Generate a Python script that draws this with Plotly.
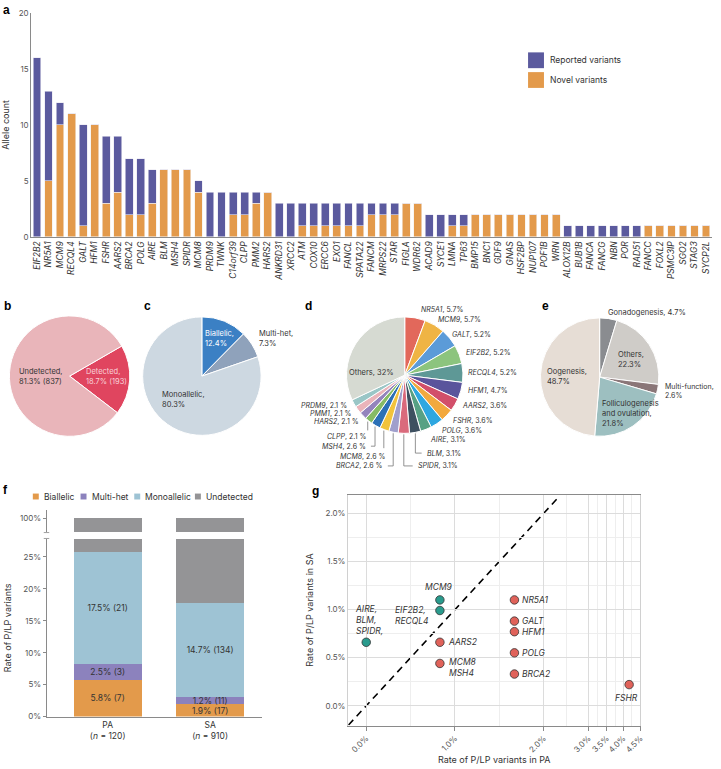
import numpy as np
import plotly.graph_objects as go

W, H = 721, 769

# ---------------- DATA ----------------
# panel a
genes = ["EIF2B2", "NR5A1", "MCM9", "RECQL4", "GALT", "HFM1", "FSHR", "AARS2", "BRCA2", "POLG",
         "AIRE", "BLM", "MSH4", "SPIDR", "MCM8", "PRDM9", "TWNK", "C14orf39", "CLPP", "PMM2",
         "HARS2", "ANKRD31", "XRCC2", "ATM", "COX10", "ERCC6", "EXO1", "FANCL", "SPATA22", "FANCM",
         "MRPS22", "STAR", "FIGLA", "WDR62", "ACAD9", "SYCE1", "LMNA", "TP63", "BMP15", "BNC1",
         "GDF9", "GNAS", "HSF2BP", "NUP107", "POF1B", "WRN", "ALOX12B", "BUB1B", "FANCA", "FANCG",
         "NBN", "POR", "RAD51", "FANCC", "FOXL2", "PSMC3IP", "SGO2", "STAG3", "SYCP2L"]
novel = [0, 5, 10, 11, 1, 10, 3, 4, 2, 2, 3, 6, 6, 6, 4, 0, 0, 2, 2, 3, 4,
         0, 0, 1, 1, 1, 1, 1, 1, 2, 2, 2, 3, 3,
         0, 0, 1, 1, 2, 2, 2, 2, 2, 2, 2, 2,
         0, 0, 0, 0, 0, 0, 0, 1, 1, 1, 1, 1, 1]
reported = [16, 8, 2, 0, 9, 0, 6, 5, 5, 5, 3, 0, 0, 0, 1, 4, 4, 2, 2, 1, 0,
            3, 3, 2, 2, 2, 2, 2, 2, 1, 1, 1, 0, 0,
            2, 2, 1, 1, 0, 0, 0, 0, 0, 0, 0, 0,
            1, 1, 1, 1, 1, 1, 1, 0, 0, 0, 0, 0, 0]

# panel b
b_labels = ["Detected", "Undetected"]
b_counts = [193, 837]
b_pct = [18.7, 81.3]

# panel c
c_labels = ["Biallelic", "Multi-het", "Monoallelic"]
c_pct = [12.4, 7.3, 80.3]

# panel d
d_labels = ["NR5A1", "MCM9", "GALT", "EIF2B2", "RECQL4", "HFM1", "AARS2", "FSHR", "POLG", "AIRE",
            "BLM", "SPIDR", "BRCA2", "MCM8", "MSH4", "CLPP", "HARS2", "PMM1", "PRDM9", "Others"]
d_pct = [5.7, 5.7, 5.2, 5.2, 5.2, 4.7, 3.6, 3.6, 3.6, 3.1,
         3.1, 3.1, 2.6, 2.6, 2.6, 2.1, 2.1, 2.1, 2.1, 32]

# panel e
e_labels = ["Gonadogenesis", "Others", "Multi-function", "Folliculogenesis and ovulation", "Oogenesis"]
e_pct = [4.7, 22.3, 2.6, 21.8, 48.7]

# panel f
f_groups = ["PA", "SA"]
f_n = [120, 910]
f_biallelic = [5.8, 1.9]
f_biallelic_n = [7, 17]
f_multihet = [2.5, 1.2]
f_multihet_n = [3, 11]
f_mono = [17.5, 14.7]
f_mono_n = [21, 134]
f_undetected = [74.2, 82.2]

# panel g
g_genes = ["AIRE,<br>BLM,<br>SPIDR,", "MCM9", "EIF2B2,<br>RECQL4", "AARS2", "MCM8<br>MSH4",
           "NR5A1", "GALT", "HFM1", "POLG", "BRCA2", "FSHR"]
g_pa = [0.0, 0.83, 0.83, 0.83, 0.83, 1.67, 1.67, 1.67, 1.67, 1.67, 4.17]
g_sa = [0.66, 1.10, 0.99, 0.66, 0.44, 1.10, 0.88, 0.77, 0.55, 0.33, 0.22]
g_group = ["SA", "SA", "SA", "PA", "PA", "PA", "PA", "PA", "PA", "PA", "PA"]

# ---------------- STYLE ----------------
FONT = "Inter"
TXT = "#333333"
TICK = "#555555"
PURPLE = "#5b5a9e"
ORANGE = "#e39a4b"


def px(x):
    return x / W


def py(y):
    return 1 - y / H


fig = go.Figure()
annotations = []
shapes = []


def ann(text, x, y, xanchor="left", yanchor="middle", size=7.5, color=TXT, align="left", **kw):
    annotations.append(dict(text=text, x=px(x), y=py(y), xref="paper", yref="paper",
                            xanchor=xanchor, yanchor=yanchor, showarrow=False, align=align,
                            font=dict(family=FONT, size=size, color=color), **kw))


def square(x0, y0, size, color):
    shapes.append(dict(type="rect", xref="paper", yref="paper", x0=px(x0), x1=px(x0 + size),
                       y0=py(y0 + size), y1=py(y0), fillcolor=color, line=dict(width=0)))


# ---------------- PANEL a ----------------
fig.add_trace(go.Bar(x=genes, y=novel, name="Novel variants", xaxis="x", yaxis="y",
                     marker=dict(color=ORANGE, line=dict(color="#f4efe8", width=0.6)),
                     showlegend=False, width=0.68))
fig.add_trace(go.Bar(x=genes, y=reported, name="Reported variants", xaxis="x", yaxis="y",
                     marker=dict(color=PURPLE, line=dict(color="#e8e6f0", width=0.6)),
                     showlegend=False, width=0.68))
# legend of panel a
square(531, 48, 16, PURPLE)
ann("Reported variants", 551, 56, size=8.5)
square(531, 68, 16, ORANGE)
ann("Novel variants", 551, 76, size=8.5)

# ---------------- PIES ----------------
def pie_domain(cx, cy, r):
    return dict(x=[px(cx - r), px(cx + r)], y=[py(cy + r), py(cy - r)])


fig.add_trace(go.Pie(labels=b_labels, values=b_counts, sort=False, direction="clockwise", rotation=60,
                     marker=dict(colors=["#e0455f", "#e9b5ba"], line=dict(color="white", width=1)),
                     textinfo="none", showlegend=False, domain=pie_domain(70, 376, 61)))
fig.add_trace(go.Pie(labels=c_labels, values=c_pct, sort=False, direction="clockwise", rotation=0,
                     marker=dict(colors=["#3b80c4", "#8fa2bb", "#cdd8e1"], line=dict(color="white", width=1)),
                     textinfo="none", showlegend=False, domain=pie_domain(203, 376, 60)))
d_colors = ["#e2685b", "#efb444", "#5b9bd8", "#8cc47e", "#5e9896", "#5a549c", "#d24f6a", "#f2a93e",
            "#2ea7e0", "#57a184", "#3e5060", "#da6a7c", "#a09fcc", "#f2c33c", "#2b70b6", "#86bb66",
            "#9484bc", "#eab4ba", "#9ac6c6", "#d6dad2"]
D_CX, D_CY, D_R = 407, 375, 59
fig.add_trace(go.Pie(labels=d_labels, values=d_pct, sort=False, direction="clockwise", rotation=0,
                     marker=dict(colors=d_colors, line=dict(color="white", width=1)),
                     textinfo="none", showlegend=False, domain=pie_domain(D_CX, D_CY, D_R)))
fig.add_trace(go.Pie(labels=e_labels, values=e_pct, sort=False, direction="clockwise", rotation=0,
                     marker=dict(colors=["#8a8c90", "#cfccc8", "#8a7678", "#9dbfc0", "#e6ddd5"],
                                 line=dict(color="white", width=1)),
                     textinfo="none", showlegend=False, domain=pie_domain(603, 377, 60)))

# pie labels b
ann("Undetected,<br>81.3% (837)", 17, 376.5)
ann("Detected,<br>18.7% (193)", 84, 376.5, color="#f8d3d9")
# c
ann("Biallelic,<br>12.4%", 204, 337.5, color="white")
ann("Multi-het,<br>7.3%", 258, 337.5)
ann("Monoallelic,<br>80.3%", 161, 399.5)
# e
ann("Gonadogenesis, 4.7%", 609, 312)
ann("Others,<br>22.3%", 619, 359.5)
ann("Multi-function,<br>2.6%", 667, 391.5, size=7)
ann("Folliculogenesis<br>and ovulation,<br>21.8%", 603, 414)
ann("Oogenesis,<br>48.7%", 548, 376.5)

# d labels: (x, y, anchor, leader)
d_pos = [(421, 309, "left", None), (438, 319, "left", None), (453, 334, "left", None),
         (467, 352, "left", None), (469, 372, "left", None), (469, 391, "left", None),
         (463, 406, "left", None), (454, 421, "left", None), (442, 431, "left", None),
         (430, 440, "left", None), (427, 454, "left", "hook"), (418, 467, "left", "hook"),
         (387, 467, "right", "hook"), (389, 457, "right", 449), (370, 447, "right", "hook"),
         (370, 437, "right", 431), (363, 422, "right", None), (355, 414, "right", None),
         (351, 406, "right", None), (374, 372, "center", None)]
cum = 0.0
for lab, val, (x, y, anc, lead) in zip(d_labels, d_pct, d_pos):
    mid = (cum + val / 2) / 100 * 2 * np.pi
    cum += val
    if lab == "Others":
        ann(f"{lab}, {val:g}%", x, y, xanchor="center", size=7.5)
        continue
    txt = f"<i>{lab}</i>, {val:g} %" if anc == "right" else f"<i>{lab}</i>, {val:g}%"
    ann(txt, x, y, xanchor=anc, size=7)
    if lead is not None:
        ex = D_CX + (D_R + 1) * np.sin(mid)
        ey = D_CY - (D_R + 1) * np.cos(mid)
        if lead == "hook":
            end_x = x - 3 if anc == "left" else x + 3
            path = f"M{px(ex)},{py(ey)} L{px(ex)},{py(y)} L{px(end_x)},{py(y)}"
        else:
            path = f"M{px(ex)},{py(ey)} L{px(ex)},{py(lead)}"
        shapes.append(dict(type="path", xref="paper", yref="paper", path=path,
                           line=dict(color="#777777", width=0.8)))

# ---------------- PANEL f ----------------
f_x = [0, 1]
f_series = [("Biallelic", f_biallelic, f_biallelic_n, ORANGE),
            ("Multi-het", f_multihet, f_multihet_n, "#8c82bd"),
            ("Monoallelic", f_mono, f_mono_n, "#9ec3d4"),
            ("Undetected", f_undetected, None, "#949496")]
for name, vals, ns, col in f_series:
    text = [f"{v}% ({n})" for v, n in zip(vals, ns)] if ns else None
    fig.add_trace(go.Bar(x=f_x, y=vals, name=name, xaxis="x2", yaxis="y2", width=0.667,
                         marker=dict(color=col, line=dict(width=0)), text=text,
                         textposition="inside" if ns else "none", insidetextanchor="middle",
                         constraintext="none", textangle=0,
                         textfont=dict(family=FONT, size=8.5, color=TXT), showlegend=False))
    fig.add_trace(go.Bar(x=f_x, y=vals, name=name, xaxis="x2", yaxis="y3", width=0.667,
                         marker=dict(color=col, line=dict(width=0)), showlegend=False,
                         hoverinfo="skip"))

# panel f legend
for (name, _, _, col), sx in zip(f_series, [33, 81, 135, 196]):
    square(sx, 495, 6, col)
    ann(name, sx + 9, 498, size=8.5)

# axis break marks
for yy in (534.5, 540.5):
    shapes.append(dict(type="line", xref="paper", yref="paper", x0=px(44), x1=px(49.5),
                       y0=py(yy), y1=py(yy), line=dict(color="#888", width=0.8)))

# ---------------- PANEL g ----------------
pa_knots = [0, 1, 2, 3, 3.5, 4, 4.5]
pa_pos = [0, 1, 2, 2.504, 2.71, 2.897, 3.09]


def xscale(v):
    return np.interp(v, pa_knots, pa_pos)


g_colors = {"SA": "#2a9b8d", "PA": "#e0625a"}
for grp in ["SA", "PA"]:
    idx = [i for i, g in enumerate(g_group) if g == grp]
    fig.add_trace(go.Scatter(x=[float(xscale(g_pa[i])) for i in idx], y=[g_sa[i] for i in idx],
                             mode="markers", xaxis="x4", yaxis="y4", showlegend=False,
                             text=[g_genes[i].replace("<br>", " ") for i in idx],
                             marker=dict(size=8.5, color=g_colors[grp], line=dict(color="#333", width=0.8))))

g_off = [(-13, 22.5, "left", "middle"), (-1, 6, "center", "bottom"), (-9, -5, "right", "middle"),
         (6, 0, "left", "middle"), (7, -4, "left", "middle"), (6, 0, "left", "middle"),
         (6, 0, "left", "middle"), (6, 0, "left", "middle"), (6, 0, "left", "middle"),
         (6, 0, "left", "middle"), (-3, -6, "center", "top")]
for lab, xv, yv, (dx, dy, xa, ya) in zip(g_genes, g_pa, g_sa, g_off):
    annotations.append(dict(text=f"<i>{lab}</i>", x=float(xscale(xv)), y=yv, xref="x4", yref="y4",
                            xshift=dx, yshift=dy, xanchor=xa, yanchor=ya, showarrow=False,
                            align="left", font=dict(family=FONT, size=8.5, color=TXT)))

shapes.append(dict(type="line", xref="x4", yref="y4", x0=-0.2, y0=-0.2, x1=2.16, y1=2.16,
                   line=dict(color="black", width=1.6, dash="7px,5px"), layer="below"))

# ---------------- panel letters ----------------
for letter, x, y in [("a", 1, 5), ("b", 2, 305), ("c", 143, 305), ("d", 305, 305),
                     ("e", 543, 305), ("f", 1, 491), ("g", 312, 492)]:
    annotations.append(dict(text=f"<b>{letter}</b>", x=px(x), y=py(y), xref="paper", yref="paper",
                            xanchor="left", yanchor="middle", showarrow=False,
                            font=dict(family="Liberation Sans", size=12, color="black")))

# ---------------- LAYOUT ----------------
axis_common = dict(showgrid=False, zeroline=False, showline=True, linecolor="#8a8a8a", linewidth=1,
                   tickfont=dict(family=FONT, size=8, color=TICK))

fig.update_layout(
    width=W, height=H, margin=dict(l=0, r=0, t=0, b=0),
    paper_bgcolor="white", plot_bgcolor="white",
    font=dict(family=FONT, size=8, color=TXT),
    barmode="stack", bargap=0.3, showlegend=False,
    annotations=annotations, shapes=shapes,
    xaxis=dict(axis_common, domain=[px(31.4), px(715.8)], anchor="y", tickangle=-90,
               tickvals=genes, ticktext=[f"<i>{g}</i>" for g in genes], ticks="",
               tickfont=dict(family=FONT, size=8.5, color=TXT), range=[-0.5, len(genes) - 0.5]),
    yaxis=dict(axis_common, domain=[py(235), py(8)], anchor="x", range=[0, 20],
               tickvals=[0, 5, 10, 15, 20], ticks="",
               title=dict(text="Allele count", standoff=10, font=dict(family=FONT, size=9, color=TXT))),
    xaxis2=dict(axis_common, domain=[px(47), px(263)], anchor="y2", range=[-0.595, 1.502],
                tickvals=f_x, ticktext=[f"{g}<br>(<i>n</i> = {n})" for g, n in zip(f_groups, f_n)],
                ticks="", tickfont=dict(family=FONT, size=8.5, color=TXT)),
    yaxis2=dict(axis_common, domain=[py(721), py(541)], anchor="x2", range=[0, 27.8],
                tickvals=[0, 5, 10, 15, 20, 25], ticktext=["0%", "5%", "10%", "15%", "20%", "25%"],
                ticks="outside", ticklen=3, tickcolor="#8a8a8a",
                title=dict(text="Rate of P/LP variants", standoff=10,
                           font=dict(family=FONT, size=9, color=TXT))),
    yaxis3=dict(axis_common, domain=[py(534), py(512)], anchor="x2", range=[97.9, 101.2],
                tickvals=[100], ticktext=["100%"], ticks="outside", ticklen=3, tickcolor="#8a8a8a"),
    xaxis4=dict(axis_common, domain=[px(350), px(644)], anchor="y4", range=[-0.205, 3.09],
                tickvals=[float(xscale(v)) for v in pa_knots],
                ticktext=[f"{v:.1f}%" for v in pa_knots], tickangle=-45,
                ticks="outside", ticklen=4, tickcolor="#8a8a8a",
                showgrid=True, gridcolor="#dcdcdc", gridwidth=1, mirror=True,
                minor=dict(tickvals=[float(xscale(v)) for v in [0.5, 1.5, 2.5, 3.25, 3.75, 4.25]],
                           showgrid=True, gridcolor="#eeeeee", ticks=""),
                title=dict(text="Rate of P/LP variants in PA", standoff=2,
                           font=dict(family=FONT, size=9, color=TXT))),
    yaxis4=dict(axis_common, domain=[py(730), py(496)], anchor="x4", range=[-0.205, 2.195],
                tickvals=[0, 0.5, 1.0, 1.5, 2.0], ticktext=["0.0%", "0.5%", "1.0%", "1.5%", "2.0%"],
                ticks="", showgrid=True, gridcolor="#dcdcdc", gridwidth=1, mirror=True,
                linecolor="#d0d0d0",
                minor=dict(tickvals=[0.25, 0.75, 1.25, 1.75], showgrid=True, gridcolor="#eeeeee"),
                title=dict(text="Rate of P/LP variants in SA", standoff=10,
                           font=dict(family=FONT, size=9, color=TXT))),
)

fig.write_html("out.html", config={"displayModeBar": False},
               post_script="document.body.style.margin='0';"
                           "document.documentElement.style.overflow='hidden';")
